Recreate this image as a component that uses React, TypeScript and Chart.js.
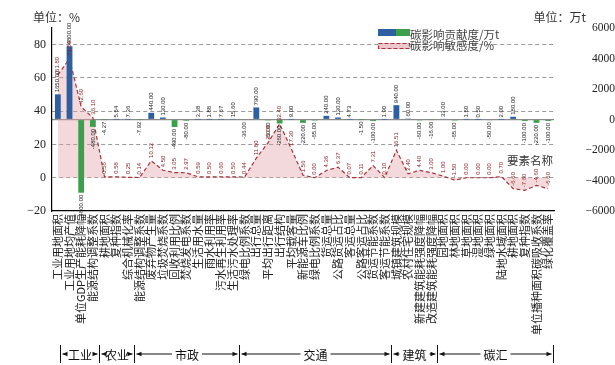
import React, { useEffect, useRef } from 'react';
import { Chart, registerables } from 'chart.js';

Chart.register(...registerables);

const CATEGORIES = [
  '工业用地面积', '工业用地均产值', '单位GDP生产能耗降幅', '能源结构调整系数',
  '耕地面积', '复种指数', '综合机械化率',
  '能源结构调整系数', '废弃物产生量', '垃圾焚烧系数', '回收利用比例', '焚烧发电系数',
  '生活用水量', '雨水利用率', '污水再生利用率', '生活污水处理率',
  '绿电比例系数', '出行总量', '平均出行距离', '出行结构', '平均载客量', '新能源车比例',
  '绿电比例系数', '货运总量', '公路货运占比', '客运总量', '公路客运占比', '货运节能系数', '客运节能系数',
  '城镇建筑规模', '农村住宅规模', '新建建筑能耗强度降幅', '改造建筑能耗强度降幅',
  '园地面积', '林地面积', '草地面积', '湿地面积', '绿地面积', '陆地水域面积',
  '耕地面积', '复种指数', '单位播种面积碳吸收系数', '绿化覆盖率',
];

// 碳影响贡献度 / 万t (right axis)
const CONTRIBUTION = [
  1650, 4800, -4800, -480,
  -4.27, 5.54, 7.36,
  -7.92, 440, 130, -490, -80, 3.38, 1.88, 7.67, 15.6,
  -36, 790, -60, -260, 9.0, -220, -65, 240, 130, 4.73, -1.5, -100, 1.9,
  940, 60, -60, -16,
  33, -65, 1.5, 0.5, -50, 2.0, 180, -100, -220, -100,
];

// 碳影响敏感度 / % (left axis)
const SENSITIVITY = [
  61.8, 71.5, 42.6, 36.1,
  0.56, 0.58, 0.25,
  0.14, 10.12, 4.5, 3.05, 2.97, 0.59, 0.5, 0.6, 0.5,
  0.44, 11.8, 21.0, 32.4, 17.3, 1.56, 0.0, 4.36, 6.37, 0.07, 0.11, 7.31, 0.1,
  16.51, 2.4, 4.4, 3.0,
  1.0, -1.5, 0.0, 0.0, 0.0, 0.7, -6.6, -7.6, -4.6, -6.6,
];

const GROUP_NAMES = ['工业', '农业', '市政', '交通', '建筑', '碳汇'];
const GROUP_SIZES = [4, 3, 9, 13, 4, 10];

const LEFT_MIN = -20;
const LEFT_MAX = 90;
const LEFT_STEP = 10;
const RIGHT_MIN = -6000;
const RIGHT_MAX = 6000;
const RIGHT_STEP = 2000;

const LEFT_UNIT = '单位：%';
const RIGHT_UNIT = '单位：万t';
const X_TITLE = '要素名称';
const LEGEND_BAR = '碳影响贡献度/万t';
const LEGEND_LINE = '碳影响敏感度/%';

const BLUE = '#2E5FA0';
const GREEN = '#3C9F4B';
const RED = '#A8323A';
const PINK = 'rgba(226,160,168,0.4)';
const CJK = '"Noto Sans CJK SC", "Noto Sans", sans-serif';
const SERIF = '"Liberation Serif", "DejaVu Serif", serif';

const fmt = (v: number) => v.toFixed(2);
const minusFmt = (v: number) => (v < 0 ? '\u2212' + Math.abs(v) : String(v));

const overlay = {
  id: 'overlay',
  afterDatasetsDraw(chart: any) {
    const ctx = chart.ctx as CanvasRenderingContext2D;
    const barMeta = chart.getDatasetMeta(0);
    const lineMeta = chart.getDatasetMeta(1);
    ctx.save();
    ctx.font = '6px "Liberation Sans", sans-serif';
    ctx.textBaseline = 'middle';
    barMeta.data.forEach((el: any, i: number) => {
      const v = CONTRIBUTION[i];
      const p = el.getProps(['x', 'y'], true);
      ctx.save();
      ctx.translate(p.x, v >= 0 ? p.y - 2 : p.y + 2);
      ctx.rotate(-Math.PI / 2);
      ctx.textAlign = v >= 0 ? 'left' : 'right';
      ctx.fillStyle = '#1a1a1a';
      ctx.fillText(fmt(v), 0, 0);
      ctx.restore();
    });
    lineMeta.data.forEach((el: any, i: number) => {
      const v = SENSITIVITY[i];
      const p = el.getProps(['x', 'y'], true);
      ctx.save();
      ctx.translate(p.x, p.y - 3);
      ctx.rotate(-Math.PI / 2);
      ctx.textAlign = 'left';
      ctx.fillStyle = '#8B1C1C';
      ctx.fillText(fmt(v), 0, 0);
      ctx.restore();
    });
    ctx.restore();
  },
  afterDraw(chart: any) {
    const ctx = chart.ctx as CanvasRenderingContext2D;
    const area = chart.chartArea;
    ctx.save();
    // unit labels
    ctx.fillStyle = '#333';
    ctx.font = `12px ${CJK}`;
    ctx.textBaseline = 'middle';
    ctx.textAlign = 'left';
    ctx.fillText(LEFT_UNIT, 33, 17);
    ctx.textAlign = 'right';
    ctx.fillText(RIGHT_UNIT, 586, 17);
    ctx.font = `11.5px ${CJK}`;
    ctx.fillText(X_TITLE, area.right - 1, 161);

    // legend
    const lx = 378;
    ctx.fillStyle = BLUE;
    ctx.fillRect(lx, 29, 18, 7);
    ctx.fillStyle = GREEN;
    ctx.fillRect(lx + 18, 29, 14, 7);
    ctx.fillStyle = 'rgb(236,200,204)';
    ctx.fillRect(lx, 43, 32, 6);
    ctx.strokeStyle = RED;
    ctx.lineWidth = 1.2;
    ctx.setLineDash([4, 2]);
    ctx.strokeRect(lx + 0.5, 43.5, 31, 5);
    ctx.setLineDash([]);
    ctx.fillStyle = '#444';
    ctx.font = `11.5px ${CJK}`;
    ctx.textAlign = 'left';
    ctx.fillText(LEGEND_BAR, lx + 32, 35);
    ctx.fillText(LEGEND_LINE, lx + 32, 46);

    // group markers
    const xs = chart.scales.x;
    const step = xs.getPixelForValue(1) - xs.getPixelForValue(0);
    const yl = 354;
    let start = 0;
    ctx.strokeStyle = '#111';
    ctx.fillStyle = '#111';
    ctx.lineWidth = 1;
    ctx.font = `12px ${CJK}`;
    ctx.textAlign = 'center';
    GROUP_SIZES.forEach((n, g) => {
      let L = xs.getPixelForValue(start) - step / 2;
      let R = xs.getPixelForValue(start + n - 1) + step / 2;
      if (g === 0) L += 8;
      if (g === GROUP_SIZES.length - 1) R -= 1;
      L = Math.round(L) + 0.5;
      R = Math.round(R) + 0.5;
      const cx = (L + R) / 2;
      const w = ctx.measureText(GROUP_NAMES[g]).width;
      ctx.beginPath();
      ctx.moveTo(L, 345);
      ctx.lineTo(L, 363);
      ctx.moveTo(R, 345);
      ctx.lineTo(R, 363);
      const a = L + 2;
      const b = cx - w / 2 - 3;
      const c = cx + w / 2 + 3;
      const d = R - 2;
      ctx.moveTo(a, yl);
      ctx.lineTo(Math.max(b, a + 4), yl);
      ctx.moveTo(Math.min(c, d - 4), yl);
      ctx.lineTo(d, yl);
      ctx.stroke();
      ctx.beginPath();
      ctx.moveTo(a, yl);
      ctx.lineTo(a + 5, yl - 2.2);
      ctx.lineTo(a + 5, yl + 2.2);
      ctx.closePath();
      ctx.moveTo(d, yl);
      ctx.lineTo(d - 5, yl - 2.2);
      ctx.lineTo(d - 5, yl + 2.2);
      ctx.closePath();
      ctx.fill();
      ctx.fillText(GROUP_NAMES[g], cx, yl + 1);
      start += n;
    });
    ctx.restore();
  },
};

export default function App() {
  const ref = useRef<HTMLCanvasElement | null>(null);
  useEffect(() => {
    if (!ref.current) return;
    const chart = new Chart(ref.current, {
      type: 'bar',
      data: {
        labels: CATEGORIES,
        datasets: [
          {
            type: 'bar',
            label: LEGEND_BAR,
            data: CONTRIBUTION,
            yAxisID: 'y2',
            backgroundColor: CONTRIBUTION.map((v) => (v >= 0 ? BLUE : GREEN)),
            barPercentage: 0.5,
            categoryPercentage: 1,
          } as any,
          {
            type: 'line',
            label: LEGEND_LINE,
            data: SENSITIVITY,
            yAxisID: 'y',
            borderColor: RED,
            borderWidth: 1.2,
            borderDash: [4, 2.5],
            backgroundColor: PINK,
            fill: 'origin',
            pointRadius: 0,
            tension: 0,
          } as any,
        ],
      },
      options: {
        responsive: false,
        animation: false,
        devicePixelRatio: 1,
        layout: { padding: { top: 28, left: 0, right: 0, bottom: 0 } },
        plugins: { legend: { display: false }, tooltip: { enabled: false } },
        scales: {
          x: {
            offset: true,
            grid: { display: false, drawTicks: false },
            border: { display: true, color: '#000', width: 1.2 },
            ticks: {
              autoSkip: false,
              minRotation: 90,
              maxRotation: 90,
              padding: 3,
              color: '#222',
              font: { family: CJK, size: 11 },
            },
            afterFit: (s: any) => { s.height = 154; },
          },
          y: {
            position: 'left',
            min: LEFT_MIN,
            max: LEFT_MAX,
            grid: {
              drawTicks: false,
              color: (c: any) => (c.tick && c.tick.value === LEFT_MIN ? 'rgba(0,0,0,0)' : '#9a9a9a'),
              lineWidth: 1,
            },
            border: { display: true, color: '#000', width: 1.2, dash: [4, 3] },
            ticks: {
              stepSize: LEFT_STEP,
              padding: 6,
              color: '#222',
              font: { family: SERIF, size: 12 },
              callback: (v: any) => minusFmt(Number(v)),
            },
            afterFit: (s: any) => { s.width = 52; },
          },
          y2: {
            position: 'right',
            min: RIGHT_MIN,
            max: RIGHT_MAX,
            grid: {
              drawTicks: false,
              drawOnChartArea: true,
              color: (c: any) => (c.tick && c.tick.value === 0 ? '#8a8a8a' : 'rgba(0,0,0,0)'),
              lineWidth: 1.2,
            },
            border: { display: false },
            ticks: {
              stepSize: RIGHT_STEP,
              padding: 3,
              crossAlign: 'far',
              color: '#222',
              font: { family: SERIF, size: 11.5 },
              callback: (v: any) => minusFmt(Number(v)),
            },
            afterFit: (s: any) => { s.width = 61; },
          },
        },
      } as any,
      plugins: [overlay],
    });
    return () => chart.destroy();
  }, []);
  return (
    <div style={{ position: 'fixed', left: 0, top: 0, width: 615, height: 365, background: '#fff' }}>
      <canvas ref={ref} width={615} height={365} />
    </div>
  );
}
